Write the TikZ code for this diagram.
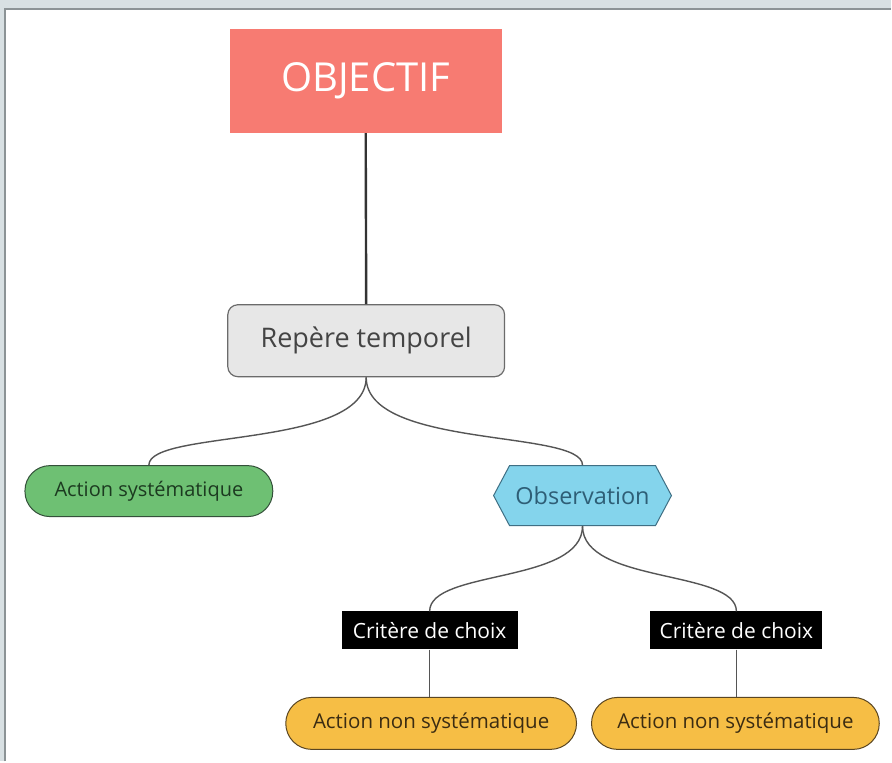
\documentclass[tikz,border=0pt]{standalone}
\usepackage{fontspec}
\setmainfont{Open Sans}
\usetikzlibrary{shapes.symbols}
\definecolor{frameBg}{HTML}{D8E0E3}
\definecolor{frameLine}{HTML}{8C9396}
\definecolor{salmon}{HTML}{F77B72}
\definecolor{greyFill}{HTML}{E7E7E7}
\definecolor{greyLine}{HTML}{6B6B6B}
\definecolor{greyText}{HTML}{444444}
\definecolor{greenFill}{HTML}{6EC073}
\definecolor{greenLine}{HTML}{34503A}
\definecolor{greenText}{HTML}{1C3A20}
\definecolor{blueFill}{HTML}{84D4EC}
\definecolor{blueLine}{HTML}{3F6F84}
\definecolor{blueText}{HTML}{2E5E76}
\definecolor{yellowFill}{HTML}{F6BE45}
\definecolor{yellowLine}{HTML}{5A4622}
\definecolor{yellowText}{HTML}{3B2C12}
\definecolor{wire}{HTML}{555555}
\tikzset{
  objbox/.style={fill=salmon, text=white, minimum width=272pt, minimum height=104pt,
    inner sep=0pt, font=\fontsize{40}{44}\selectfont},
  repbox/.style={draw=greyLine, line width=1.2pt, fill=greyFill, text=greyText,
    rounded corners=10pt, minimum width=277pt, minimum height=72pt, inner sep=0pt,
    font=\fontsize{27}{32}\selectfont},
  pillgreen/.style={draw=greenLine, line width=1pt, fill=greenFill, text=greenText,
    rounded corners=25pt, minimum width=248pt, minimum height=51pt, inner sep=0pt,
    font=\fontsize{20}{24}\selectfont},
  hexblue/.style={signal, signal to=west and east, signal pointer angle=124,
    draw=blueLine, line width=1pt, fill=blueFill, text=blueText,
    minimum width=178pt, minimum height=60pt, inner sep=0pt,
    font=\fontsize{23.5}{28}\selectfont},
  critbox/.style={fill=black, text=white, minimum height=38pt, inner sep=0pt,
    font=\fontsize{21}{25}\selectfont},
  pillyellow/.style={draw=yellowLine, line width=1pt, fill=yellowFill, text=yellowText,
    rounded corners=26pt, minimum height=52pt, inner sep=0pt,
    font=\fontsize{20.5}{24}\selectfont},
  wireline/.style={draw=wire, line width=1.4pt},
}
\begin{document}
\begin{tikzpicture}[x=1pt, y=-1pt]
  % window frame
  \fill[frameBg] (0,0) rectangle (892,762);
  \fill[white] (5,9) rectangle (892,762);
  \draw[frameLine, line width=1.5pt] (5,762) -- (5,9) -- (892,9);
  \useasboundingbox (0,0) rectangle (892,762);

  % nodes
  \node[objbox] (obj) at (366,81) {OBJECTIF};
  \node[repbox] (rep) at (366.5,341) {Repère temporel};
  \node[pillgreen] (act) at (149,491.5) {Action systématique};
  \node[hexblue] (obs) at (583,496) {Observation};
  \node[critbox, minimum width=176pt] (critA) at (430,631) {Critère de choix};
  \node[critbox, minimum width=172pt] (critB) at (737,631) {Critère de choix};
  \node[pillyellow, minimum width=291pt] (nonA) at (431.5,724) {Action non systématique};
  \node[pillyellow, minimum width=288pt] (nonB) at (736,724) {Action non systématique};

  % connectors
  \draw[wireline, line width=2.4pt, draw=black!80] (obj.south) -- (rep.north);
  \draw[wireline] (rep.south) .. controls +(0,72) and +(0,-36) .. (act.north);
  \draw[wireline] (rep.south) .. controls +(0,72) and +(0,-36) .. (obs.north);
  \draw[wireline] (obs.south) .. controls +(0,58) and +(0,-42) .. (critA.north);
  \draw[wireline] (obs.south) .. controls +(0,58) and +(0,-42) .. (critB.north);
  \draw[wireline] (critA.south) -- (critA.south |- nonA.north);
  \draw[wireline] (critB.south) -- (critB.south |- nonB.north);
\end{tikzpicture}
\end{document}
